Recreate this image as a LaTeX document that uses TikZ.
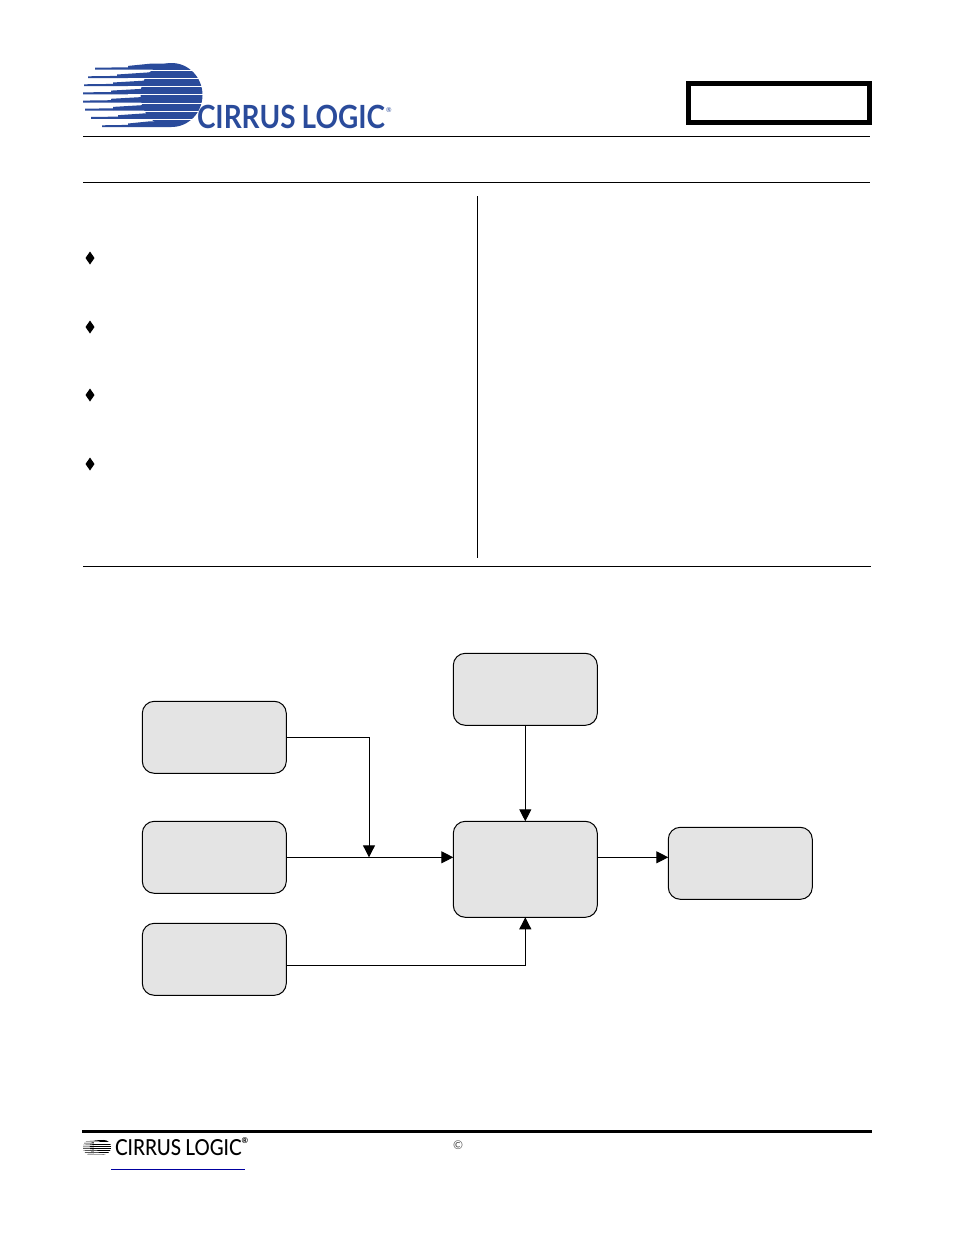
\documentclass[tikz,border=0pt]{standalone}
\usepackage{fontspec}
\usepackage{graphicx}
\setmainfont{Lato}
\usetikzlibrary{arrows.meta}
\definecolor{cirrusblue}{HTML}{2A4B9B}
\definecolor{boxgrey}{HTML}{E4E4E4}
\definecolor{linkblue}{HTML}{0000A0}
\tikzset{
  rule/.style={draw=black,line width=0.75pt},
  blockbox/.style={draw=black,fill=boxgrey,rounded corners=9pt,line width=0.75pt,
    minimum width=108pt,inner sep=0pt,outer sep=0pt},
  shortbox/.style={blockbox,minimum height=54pt},
  tallbox/.style={blockbox,minimum height=72pt},
  link/.style={draw=black,line width=0.75pt},
  linkarrow/.style={link,-{Triangle[length=9pt,width=9pt]}},
  logotext/.style={inner sep=0pt,outer sep=0pt},
}
% one logo band: line y, left end, step, colour
\newcommand{\logoband}[4]{%
  \fill[#4] (#2,#1-1.0) -- (#3,#1-1.4) -- (#3,#1+0.9) -- (#2,#1+0.9) -- cycle;
  \fill[#4] (#3,#1-2.8) -- (150,#1-5) -- (171,#1-5) -- (171,#1+0.9) -- (#3,#1+0.9) -- cycle;
}
% colour, half height of the white gaps
\newcommand{\logomark}[2]{%
  \begin{scope}
    \clip (78,56) rectangle (210,127.2);
    \fill[#1] (171.5,95) ellipse [x radius=31,y radius=32];
    \logoband{68.7}{95}{128}{#1}
    \logoband{77.3}{88}{117}{#1}
    \logoband{85.3}{84}{113}{#1}
    \logoband{93.4}{83}{111}{#1}
    \logoband{101.6}{83}{111}{#1}
    \logoband{109.7}{85}{113}{#1}
    \logoband{118}{91}{118}{#1}
    \logoband{126.3}{102}{128}{#1}
    \foreach \yy in {70.3,78.5,86.7,94.9,103.1,111.2,119.5}{
      \fill[white] (128,\yy-#2) rectangle (210,\yy+#2);
    }
  \end{scope}
}
\newcommand{\bulletmark}[1]{%
  \fill[black] (90,#1-6.5) -- (94.5,#1) -- (90,#1+6.5) -- (85.5,#1) -- cycle;
}
\begin{document}
\begin{tikzpicture}[x=0.75pt,y=-0.75pt]
  \useasboundingbox (0,0) rectangle (954,1235);
  \fill[white] (0,0) rectangle (954,1235);

  % header logo
  \logomark{cirrusblue}{0.55}
  \node[logotext,anchor=north west,text=cirrusblue] (logoname) at (197,105)
    {\resizebox{141pt}{17.5pt}{\bfseries CIRRUS\hspace{0.22em}LOGIC}};
  \node[logotext,text=cirrusblue,font=\fontsize{5}{6}\selectfont] (logoreg) at (389,110) {®};

  % title frame
  \node[draw=black,line width=3.75pt,minimum width=136pt,minimum height=29.25pt,
        inner sep=0pt] (frame) at (779,103) {};

  % rules
  \draw[rule] (83,136.5) -- (870,136.5);
  \draw[rule] (83,182.5) -- (870,182.5);
  \draw[rule] (83,566.5) -- (871,566.5);
  \draw[rule] (477.5,196) -- (477.5,558);

  % bullets
  \bulletmark{258}
  \bulletmark{327}
  \bulletmark{395}
  \bulletmark{464}

  % blocks
  \node[shortbox] (a) at (214.3,737.3) {};
  \node[shortbox] (b) at (214.3,857.3) {};
  \node[shortbox] (c) at (214.3,959.3) {};
  \node[shortbox] (d) at (525.3,689.3) {};
  \node[tallbox]  (e) at (525.3,869.3) {};
  \node[shortbox] (f) at (740.3,863.3) {};
  \coordinate (join) at (369,857.3);
  \coordinate (cout) at (286,965);

  % connectors
  \draw[linkarrow] (a.east) -- (a.east -| join) -- (join);
  \draw[linkarrow] (b.east) -- (b.east -| e.west);
  \draw[linkarrow] (cout) -- (cout -| e.south) -- (e.south);
  \draw[linkarrow] (d.south) -- (e.north);
  \draw[linkarrow] (b.east -| e.east) -- (b.east -| f.west);

  % footer
  \fill[black] (82,1130) rectangle (872,1132.7);
  \begin{scope}[shift={(63.5,1125.8)},xscale=0.235,yscale=0.225]
    \logomark{black}{0.3}
  \end{scope}
  \node[logotext,anchor=north west,text=black] (footname) at (115,1139)
    {\resizebox{95pt}{12pt}{\fontspec{Lato Medium}CIRRUS\hspace{0.22em}LOGIC}};
  \node[logotext,text=black,font=\fontsize{6}{7}\selectfont\bfseries] (footreg) at (245,1141) {®};
  \draw[draw=linkblue,line width=0.75pt] (111,1169.5) -- (245,1169.5);
  \node[logotext,text=black!70,font=\fontsize{9}{10}\selectfont] (copy) at (458,1145) {©};
\end{tikzpicture}
\end{document}
